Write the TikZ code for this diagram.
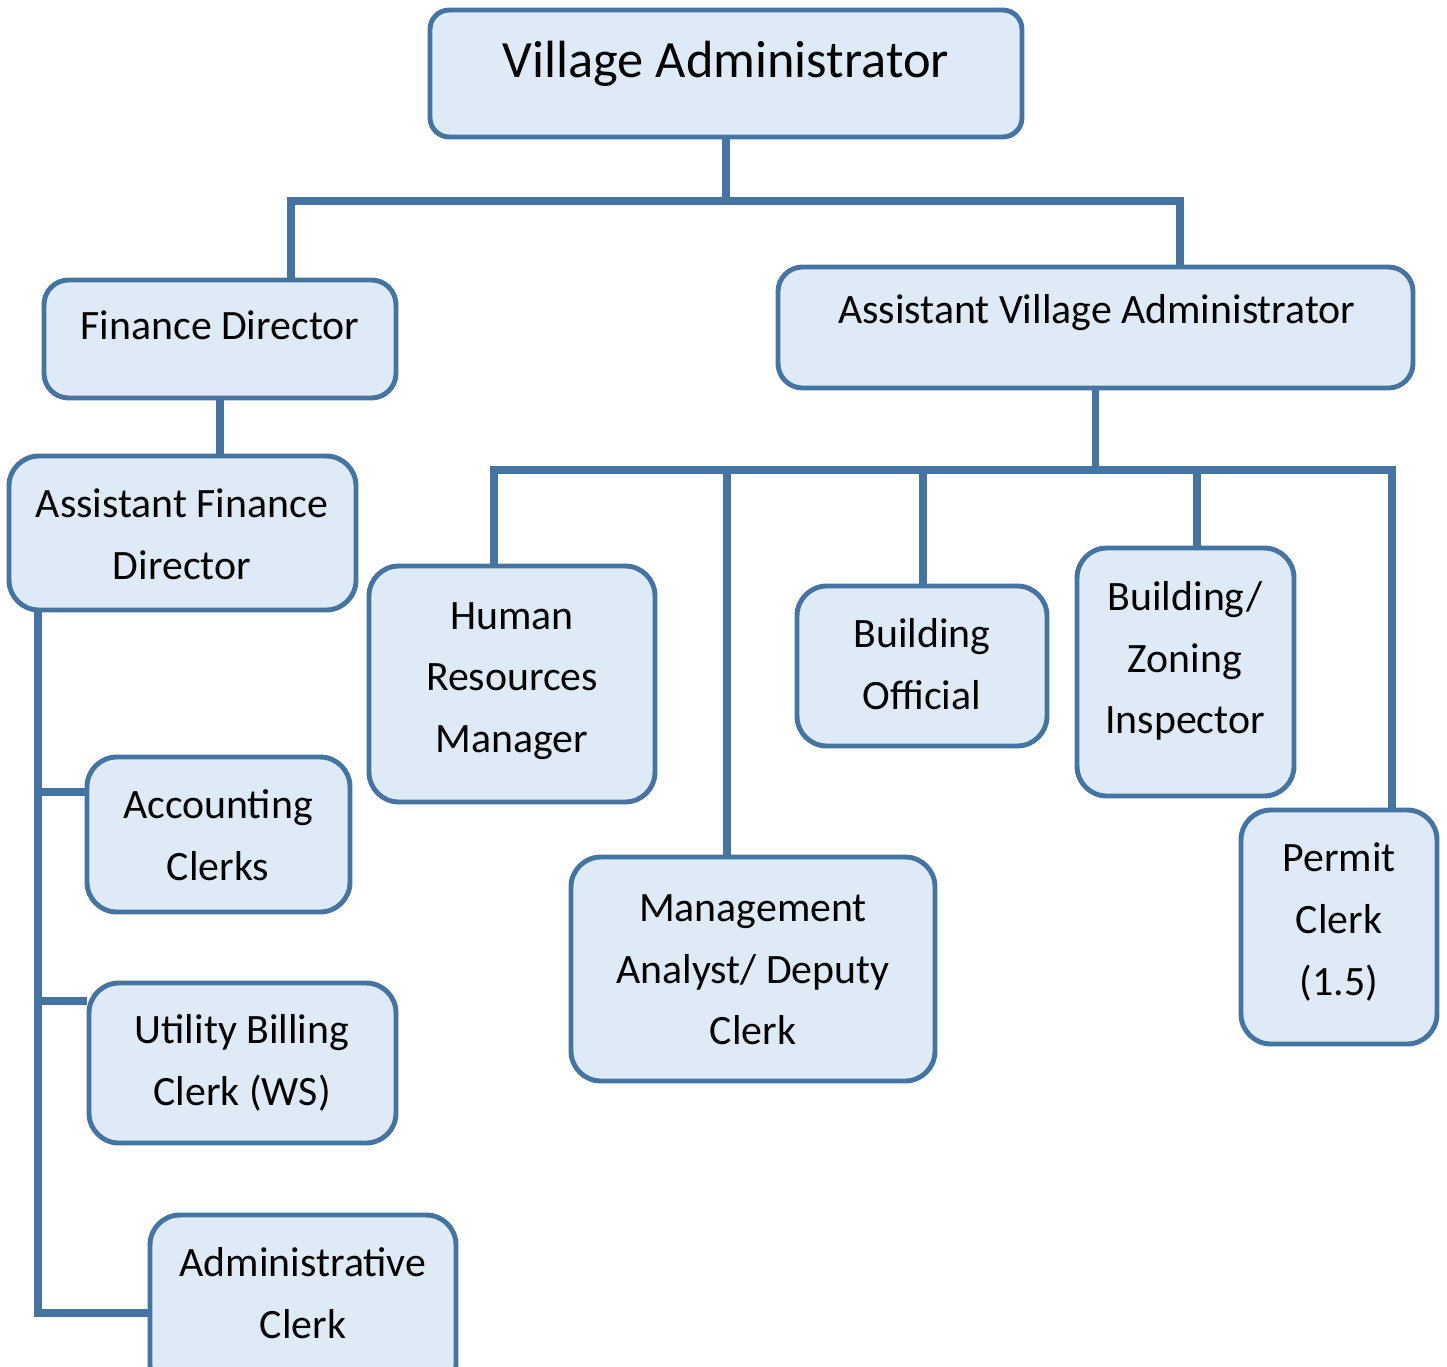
\documentclass[tikz,border=0pt]{standalone}
\usepackage{fontspec}
\setmainfont{Carlito}
\usetikzlibrary{fit}
\definecolor{unitline}{HTML}{4674A2}
\definecolor{unitfill}{HTML}{DEEAF6}
\tikzset{
  unit/.style={draw=unitline, fill=unitfill, line width=2.8pt, rounded corners=17pt, inner sep=0pt},
  link/.style={draw=unitline, line width=4.2pt},
  txt/.style={font=\fontsize{23.8}{35.1}\selectfont, align=center, inner sep=0pt},
  toptxt/.style={font=\fontsize{29.8}{36}\selectfont, align=center, inner sep=0pt}
}
\begin{document}
\begin{tikzpicture}[x=0.02cm, y=-0.02cm]
   \clip (0,0) rectangle (1447,1366);
   \useasboundingbox (0,0) rectangle (1447,1366);
   % joints of the connectors
   \coordinate (j1) at (291,201);
   \coordinate (j2) at (1180,201);
   \coordinate (k1) at (494,470);
   \coordinate (k2) at (1392,470);
   \coordinate (k3) at (727,470);
   \coordinate (k4) at (923,470);
   \coordinate (k5) at (1197,470);
   \coordinate (s) at (38,1313);
   \coordinate (t1) at (38,792);
   \coordinate (t2) at (38,1001);
   % boxes
   \node[unit, rounded corners=11pt, fit={(430,10) (1022,137)}] (va) {};
   \node[unit, rounded corners=14pt, fit={(44,280) (396,398)}] (fd) {};
   \node[unit, rounded corners=14pt, fit={(778,267) (1413,388)}] (ava) {};
   \node[unit, fit={(9,456) (356,610)}] (afd) {};
   \node[unit, fit={(369,566) (655,802)}] (hr) {};
   \node[unit, fit={(797,586) (1047,746)}] (bo) {};
   \node[unit, fit={(1077,548) (1294,796)}] (bzi) {};
   \node[unit, fit={(87,757) (350,912)}] (acc) {};
   \node[unit, fit={(571,857) (935,1081)}] (mac) {};
   \node[unit, fit={(1241,810) (1437,1044)}] (pc) {};
   \node[unit, fit={(89,983) (396,1143)}] (ubc) {};
   \node[unit, fit={(150,1215) (456,1395)}] (acl) {};
   % texts
   \node[toptxt] (vat) at (726,64) {Village Administrator};
   \node[txt] (fdt) at (220,325) {Finance Director};
   \node[txt] (avat) at (1097,313) {Assistant Village Administrator};
   \node[txt] (afdt) at (182,534) {Assistant Finance\\Director};
   \node[txt] (hrt) at (512,681) {Human\\Resources\\Manager};
   \node[txt] (bot) at (922,664) {Building\\Official};
   \node[txt] (bzit) at (1185,661) {Building/\\Zoning\\Inspector};
   \node[txt] (acct) at (218,835) {Accounting\\Clerks};
   \node[txt] (mact) at (753,970) {Management\\Analyst/ Deputy\\Clerk};
   \node[txt] (pct) at (1339,922) {Permit\\Clerk\\(1.5)};
   \node[txt] (ubct) at (242,1063) {Utility Billing\\Clerk (WS)};
   \node[txt] (aclt) at (303,1293) {Administrative\\Clerk};
   % lines
   \draw[link] (va.south) -- (va.south |- j1);
   \draw[link] (fd.north -| j1) -- (j1) -- (j2) -- (ava.north -| j2);
   \draw[link] (fd.south) -- (afd.north -| fd.south);
   \draw[link] (ava.south) -- (ava.south |- k1);
   \draw[link] (hr.north -| k1) -- (k1) -- (k2) -- (pc.north -| k2);
   \draw[link] (k3) -- (mac.north -| k3);
   \draw[link] (k4) -- (bo.north -| k4);
   \draw[link] (k5) -- (bzi.north -| k5);
   \draw[link] (afd.south -| s) -- (s) -- (s -| acl.west);
   \draw[link] (t1) -- (t1 -| acc.west);
   \draw[link] (t2) -- (t2 -| ubc.west);
\end{tikzpicture}
\end{document}
